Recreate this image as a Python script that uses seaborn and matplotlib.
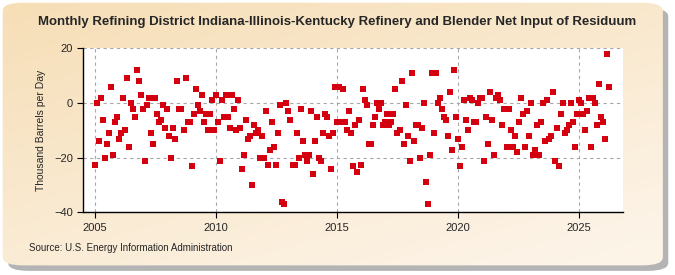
import numpy as np
import pandas as pd
import seaborn as sns
import matplotlib.pyplot as plt
from matplotlib.patches import FancyBboxPatch
from matplotlib.colors import LinearSegmentedColormap

# Monthly values (thousand barrels per day), Jan 2005 onward
v2005_2008 = [-22.9, 0.0, -13.8, 1.9, -6.2, -20.0, -14.9, -10.9, 5.9, -19.1, -6.9, -5.1,
              -13.1, -10.9, 1.9, -9.8, 9.2, -16.0, 0.0, -2.1, -5.1, 12.1, 8.1, 3.0,
              -2.1, -21.1, -1.0, 1.9, -10.9, -14.9, 1.9, -4.0, -6.9, -6.2, -1.0, -9.1,
              -2.1, -12.0, -20.0, -9.1, -13.1, 8.1, -2.1]
v2008_2012 = [-2.1, -9.8, 9.2, -6.9, -6.9, -23.0, -4.0, 5.1, -1.0, -2.9, 3.0, -6.9,
              -4.0, -9.8, -4.0, 1.1, -9.8, 3.0, -6.9, -21.1, 1.1, -5.1, 3.0, -5.1,
              -9.1, 3.0, -2.1, -9.8, 1.1, -9.1, -24.1, -19.1, -6.2, -13.1, -12.0, -29.9,
              -8.0, -10.9, -9.8, -20.0, -12.0, -20.0, -2.9, -22.9, -17.1, -6.9, -16.0]
v2012_2016 = [-22.9, -10.9, -1.0, -36.1, -36.8, 0.0, -2.9, -6.2, -22.9, -22.9, -10.9, -20.0,
              -2.1, -13.8, -19.1, -21.1, -19.1, -2.9, -25.9, -13.8, -5.1, -20.0, -21.1, -10.9,
              -4.0, -5.1, -12.0, -24.1, -10.9, 5.9, -6.9, 5.9, -6.9, 5.1, -6.9, -9.8,
              -2.9, -10.9, -23.0, -8.0, -25.2, -6.2, -22.9, 5.1, 1.1, -1.0, -14.9]
v2016_2020 = [-14.9, -8.0, -5.1, 0.0, -2.1, 0.0, -8.0, -6.9, -4.0, -8.0, -6.9, -4.0,
              5.2, -10.9, -9.8, 8.1, -14.9, -1.0, -12.0, -21.1, 11.0, -13.8, -8.0, -8.0,
              -20.0, -9.1, 0.0, -28.8, -36.8, -19.1, 11.0, -10.9, 11.0, 0.0, 1.9, -2.1,
              -5.1, -6.2, -12.0, 4.1, -17.1, 12.1, -5.1, -13.1, -23.0, -16.0, 1.1]
v2020_2024 = [-6.2, -9.8, 1.9, 1.1, -6.9, -6.9, 0.0, 1.9, 1.9, -21.1, -5.1, -14.9,
              4.1, -6.2, -19.1, 1.9, 3.0, 1.1, -8.0, -2.1, -16.0, -2.1, -9.8, -16.0,
              -12.0, -17.9, -6.9, 1.9, -4.0, -16.0, -2.9, -12.0, 0.0, -19.1, -17.1, -8.0,
              -19.1, -6.9, 0.0, -13.8, 1.1, -13.1, -12.0, 4.1, -21.1, -9.1, -23.0, -4.0]
v2024_2026 = [0.0, -10.9, -9.8, -8.0, 0.0, -6.9, -16.0, -4.0, 1.1, 0.0, -4.0, -9.8,
              -2.9, 1.9, -16.0, 1.9, 0.0, -8.0, 7.0, -5.1, -6.9, -13.1, 17.9, 5.9]

values = v2005_2008 + v2008_2012 + v2012_2016 + v2016_2020 + v2020_2024 + v2024_2026
years = 2005 + np.arange(len(values)) / 12.0
df = pd.DataFrame({'year': years, 'value': values})

sns.set_style('white')
plt.rcParams['font.family'] = ['Liberation Sans', 'DejaVu Sans']
narrow = ['Liberation Sans Narrow', 'Liberation Sans', 'DejaVu Sans']

fig = plt.figure(figsize=(6.75, 2.75), dpi=100)
fig.patch.set_facecolor('white')

# beige rounded frame with a grey shadow, gradient fill
shadow = FancyBboxPatch((0.012, 0.015), 0.978, 0.955, boxstyle='round,pad=0,rounding_size=0.03',
                        transform=fig.transFigure, facecolor='#b4b4b4', edgecolor='none', zorder=-3)
fig.patches.append(shadow)

bg = fig.add_axes([0, 0, 1, 1], zorder=-2)
bg.set_axis_off()
frame = FancyBboxPatch((0.004, 0.035), 0.978, 0.955, boxstyle='round,pad=0,rounding_size=0.03',
                       transform=fig.transFigure, facecolor='none', edgecolor='none')
fig.patches.append(frame)
gx, gy = np.meshgrid(np.linspace(0, 1, 200), np.linspace(0, 1, 100))
grad = np.clip(0.65 * gy + 0.45 * gx, 0, 1)
cmap = LinearSegmentedColormap.from_list('frame', ['#f6deb6', '#fdf4e8'])
im = bg.imshow(grad, cmap=cmap, extent=[0, 1, 0, 1], origin='upper', aspect='auto',
               transform=fig.transFigure)
im.set_clip_path(frame)
bg.set_xlim(0, 1)
bg.set_ylim(0, 1)

ax = fig.add_axes([0.1234, 0.228, 0.7996, 0.5975])
ax.set_facecolor('white')
sns.scatterplot(data=df, x='year', y='value', marker='s', s=13, color='#d40010',
                linewidth=0, ax=ax, clip_on=False, zorder=3)

ax.set_xlim(2004.53, 2026.81)
ax.set_ylim(-40, 20)
ax.set_xticks([2005, 2010, 2015, 2020, 2025])
ax.set_yticks([-40, -20, 0, 20])
ax.grid(True, color='#a8a8a8', linestyle=(0, (3, 3)), linewidth=0.8)
for side in ['top', 'right']:
    ax.spines[side].set_visible(False)
for side in ['left', 'bottom']:
    ax.spines[side].set_color('black')
    ax.spines[side].set_linewidth(1.0)
ax.tick_params(axis='both', labelsize=8, length=4, color='black', direction='out',
               bottom=True, left=True)
ax.set_xlabel('')
ax.set_ylabel('Thousand Barrels per Day', fontsize=7.5, labelpad=6)

fig.text(0.5, 0.92, 'Monthly Refining District Indiana-Illinois-Kentucky Refinery and Blender Net Input of Residuum',
         ha='center', va='center', fontsize=9.5, fontweight='bold', family=narrow)
fig.text(0.043, 0.098, 'Source: U.S. Energy Information Administration', ha='left', va='center',
         fontsize=7, family=narrow)

fig.savefig('out.png', dpi=100, facecolor=fig.get_facecolor())
